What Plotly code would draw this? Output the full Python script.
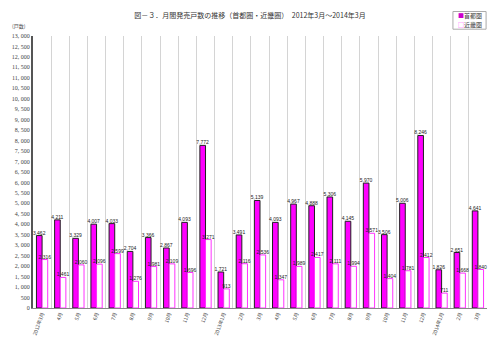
import plotly.graph_objects as go

months = ["2012年3月", "4月", "5月", "6月", "7月", "8月", "9月", "10月", "11月", "12月",
          "2013年1月", "2月", "3月", "4月", "5月", "6月", "7月", "8月", "9月", "10月", "11月", "12月",
          "2014年1月", "2月", "3月"]
shuto = [3462, 4211, 3329, 4007, 4033, 2704, 3366, 2867, 4093, 7772, 1721, 3491, 5139,
         4093, 4967, 4888, 5306, 4145, 5970, 3506, 5006, 8246, 1826, 2651, 4641]
kinki = [2316, 1461, 2060, 2096, 2599, 1276, 1981, 2109, 1696, 3271, 913, 2116, 2536,
         1347, 1989, 2417, 2111, 1994, 3571, 1404, 1781, 2412, 711, 1668, 1840]
xcats = [f"{i}|{m}" for i, m in enumerate(months)]
yticks = list(range(0, 13001, 500))
yticktext = [f"{v:,}".replace(",", ", ") for v in yticks]

jp = "Noto Sans CJK JP"
fig = go.Figure()
fig.add_trace(go.Bar(
    x=xcats, y=shuto, name="首都圏",
    marker=dict(color="#FF00FF", line=dict(color="#202020", width=1)),
    text=[f"{v:,}" for v in shuto], textposition="outside", constraintext="none",
    textfont=dict(size=5, color="#222", family="Liberation Sans"), cliponaxis=False,
))
fig.add_trace(go.Bar(
    x=xcats, y=kinki, name="近畿圏",
    marker=dict(color="#FFFFFF", line=dict(color="#FF33FF", width=1)),
    text=[f"{v:,}" for v in kinki], textposition="outside", constraintext="none",
    textfont=dict(size=5, color="#222", family="Liberation Sans"), cliponaxis=False,
))
fig.update_layout(
    width=500, height=351,
    margin=dict(l=27, r=13, t=36, b=43),
    paper_bgcolor="white", plot_bgcolor="white",
    barmode="group", bargap=0.38, bargroupgap=0,
    showlegend=False,
    title=dict(text="図－３．月間発売戸数の推移（首都圏・近畿圏）　2012年3月～2014年3月",
               x=0.5, xanchor="center", y=0.955, yanchor="middle",
               font=dict(size=7, family=jp, color="#333")),
    xaxis=dict(type="category", tickmode="array", tickvals=xcats, ticktext=months,
               tickangle=-70, tickfont=dict(size=5, family=jp, color="#444"),
               showgrid=True, gridcolor="#D4D4D4", gridwidth=1.2, tickson="boundaries",
               showline=True, linecolor="#888888", linewidth=1, ticks=""),
    yaxis=dict(range=[0, 13000], tickmode="array", tickvals=yticks, ticktext=yticktext,
               tickfont=dict(size=6, family="Liberation Serif", color="#444"),
               showgrid=False, showline=True, linecolor="#555555", linewidth=2,
               zeroline=False, ticks=""),
)
# legend box
fig.add_shape(type="rect", xref="paper", yref="paper", x0=0.925, x1=0.998, y0=1.025, y1=1.09,
              line=dict(color="#AAAAAA", width=1), fillcolor="white")
fig.add_annotation(text="<span style='color:#CC00CC'>■</span>首都圏", xref="paper", yref="paper",
                   x=0.932, y=1.075, xanchor="left", yanchor="middle", showarrow=False,
                   font=dict(size=6, family=jp, color="#444"))
fig.add_annotation(text="<span style='color:#FF33FF'>□</span>近畿圏", xref="paper", yref="paper",
                   x=0.932, y=1.042, xanchor="left", yanchor="middle", showarrow=False,
                   font=dict(size=6, family=jp, color="#444"))
fig.add_annotation(text="(戸数)", xref="paper", yref="paper", x=-0.05, y=1.06,
                   showarrow=False, font=dict(size=5, family=jp, color="#444"))
fig.write_html("out.html")
